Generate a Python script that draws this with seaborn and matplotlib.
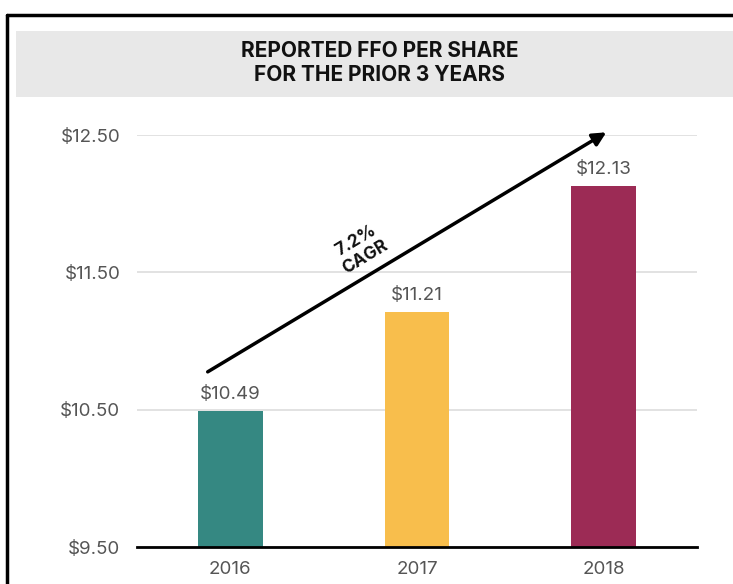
import pandas as pd
import matplotlib.pyplot as plt
import seaborn as sns
from matplotlib.patches import Rectangle
from matplotlib.lines import Line2D

# Chart data
years = ["2016", "2017", "2018"]
ffo_per_share = [10.49, 11.21, 12.13]
bar_colors = ["#358882", "#f8be4c", "#9c2b55"]
y_ticks = [9.50, 10.50, 11.50, 12.50]
cagr_label = "7.2%\nCAGR"

df = pd.DataFrame({"year": years, "ffo": ffo_per_share})

sns.set_theme(style="white")
plt.rcParams["font.family"] = ["Inter", "DejaVu Sans"]

fig = plt.figure(figsize=(7.33, 5.84), dpi=100)
fig.patch.set_facecolor("white")

# Outer frame (top and left edges visible)
fig.add_artist(Line2D([7 / 733, 7 / 733], [0, 1 - 15 / 584], color="black", lw=2.5))
fig.add_artist(Line2D([7 / 733, 1], [1 - 15 / 584, 1 - 15 / 584], color="black", lw=2.5))

# Grey title band
fig.add_artist(Rectangle((16 / 733, 1 - 97 / 584), 1, 66 / 584, transform=fig.transFigure,
                         facecolor="#e8e8e8", edgecolor="none", zorder=0))
fig.text(0.518, 1 - 63 / 584, "REPORTED FFO PER SHARE\nFOR THE PRIOR 3 YEARS",
         ha="center", va="center", fontsize=15, fontweight="bold", color="#111111",
         linespacing=1.3)

ax = fig.add_axes([137 / 733, 1 - 547 / 584, (697 - 137) / 733, (547 - 135) / 584])
sns.barplot(data=df, x="year", y="ffo", hue="year", palette=bar_colors,
            width=0.345, legend=False, ax=ax, saturation=1, zorder=3, linewidth=0)

ax.set_ylim(9.5, 12.5)
ax.set_xlim(-0.5, 2.5)
ax.set_yticks(y_ticks)
ax.set_yticklabels([f"${v:.2f}" for v in y_ticks])
ax.set_xlabel("")
ax.set_ylabel("")
ax.tick_params(axis="both", length=0, labelsize=13.5, colors="#555555")
ax.tick_params(axis="y", pad=12)
ax.tick_params(axis="x", pad=10)
for t in ax.get_xticklabels() + ax.get_yticklabels():
    t.set_color("#555555")

ax.yaxis.grid(True, color="#dddddd", lw=1.2, zorder=0)
for side in ["top", "right", "left"]:
    ax.spines[side].set_visible(False)
ax.spines["bottom"].set_color("black")
ax.spines["bottom"].set_linewidth(2)
ax.spines["bottom"].set_zorder(5)

# Value labels
for i, v in enumerate(ffo_per_share):
    ax.text(i, v + 0.06, f"${v:.2f}", ha="center", va="bottom", fontsize=13.5, color="#555555")

# CAGR arrow
ax.annotate("", xy=(2.027, 12.53), xytext=(-0.134, 10.765),
            arrowprops=dict(arrowstyle="-|>", color="black", lw=2.5, mutation_scale=20),
            annotation_clip=False)
ax.text(0.70, 11.67, cagr_label, ha="center", va="center", rotation=31,
        fontsize=12.5, fontweight="bold", color="#111111", linespacing=1.15)

fig.savefig("out.png", dpi=100)
